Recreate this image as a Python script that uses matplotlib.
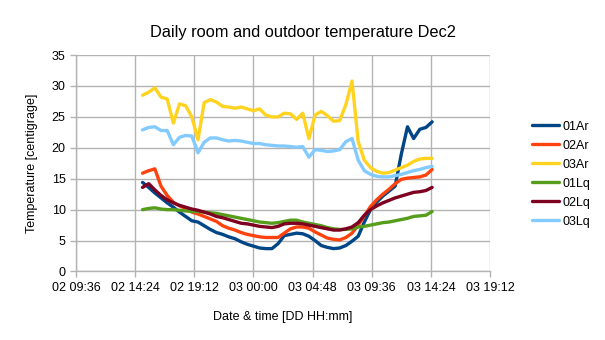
import datetime as dt

import pandas as pd
import matplotlib
matplotlib.use("Agg")
import matplotlib.pyplot as plt
import matplotlib.dates as mdates


# readings every 30 min, 02 15:00 -> 03 14:30
times = pd.date_range("2020-12-02 15:00", periods=48, freq="30min")

ar01 = [14.4, 13.6, 12.7, 11.9, 11.1, 10.4, 9.6, 8.9, 8.2, 8.0, 7.4, 6.8,
        6.3, 6.0, 5.6, 5.3, 4.8, 4.4, 4.1, 3.8, 3.7, 3.7, 4.5, 5.8,
        6.0, 6.2, 6.1, 5.7, 5.0, 4.2, 3.9, 3.7, 3.8, 4.2, 4.9, 5.7,
        8.0, 10.0, 11.2, 12.2, 13.0, 13.8, 19.0, 23.4, 21.5, 23.0, 23.3, 24.2]
ar02 = [15.9, 16.3, 16.6, 13.8, 12.3, 11.2, 10.6, 10.2, 9.6, 9.3, 8.9, 8.5,
        8.1, 7.4, 7.0, 6.7, 6.3, 6.0, 5.8, 5.6, 5.5, 5.5, 5.5, 6.2,
        6.9, 7.2, 7.2, 7.0, 6.4, 5.9, 5.4, 5.2, 5.1, 5.5, 6.2, 7.5,
        9.0, 10.5, 11.6, 12.5, 13.3, 14.2, 14.9, 15.1, 15.2, 15.3, 15.6, 16.5]
ar03 = [28.5, 29.0, 29.7, 28.2, 27.9, 24.0, 27.1, 26.8, 25.0, 21.3, 27.3, 27.8,
        27.4, 26.7, 26.6, 26.4, 26.6, 26.3, 26.0, 26.3, 25.3, 25.0, 25.0, 25.6,
        25.5, 24.6, 25.6, 21.5, 25.3, 25.9, 25.2, 24.3, 24.4, 27.0, 30.8, 21.0,
        18.0, 16.8, 16.2, 15.9, 16.0, 16.4, 16.8, 17.2, 17.8, 18.2, 18.3, 18.3]
lq01 = [10.0, 10.2, 10.3, 10.1, 10.0, 10.0, 9.9, 9.8, 9.7, 9.7, 9.6, 9.5,
        9.4, 9.2, 9.0, 8.8, 8.6, 8.4, 8.2, 8.0, 7.9, 7.8, 7.9, 8.1,
        8.3, 8.3, 8.0, 7.8, 7.6, 7.4, 7.1, 6.9, 6.8, 6.8, 6.9, 7.2,
        7.3, 7.5, 7.7, 7.9, 8.0, 8.2, 8.4, 8.6, 8.9, 9.0, 9.1, 9.7]
lq02 = [13.6, 14.2, 13.2, 12.3, 11.6, 11.1, 10.7, 10.4, 10.1, 9.9, 9.6, 9.3,
        8.9, 8.7, 8.4, 8.1, 7.8, 7.7, 7.5, 7.3, 7.2, 7.1, 7.3, 7.7,
        7.8, 7.8, 7.7, 7.5, 7.3, 7.1, 6.9, 6.7, 6.7, 6.9, 7.2, 7.9,
        9.1, 10.0, 10.6, 11.1, 11.5, 11.9, 12.2, 12.5, 12.8, 12.9, 13.1, 13.6]
lq03 = [22.9, 23.3, 23.4, 22.8, 22.8, 20.5, 21.7, 22.0, 21.9, 19.2, 20.9, 21.6,
        21.6, 21.3, 21.1, 21.2, 21.1, 20.9, 20.7, 20.7, 20.5, 20.4, 20.3, 20.3,
        20.2, 20.1, 20.2, 18.5, 19.7, 19.6, 19.4, 19.5, 19.7, 21.0, 21.5, 18.0,
        16.3, 15.7, 15.4, 15.3, 15.3, 15.5, 15.7, 16.0, 16.3, 16.5, 16.8, 17.0]

series_names = ["01Ar", "02Ar", "03Ar", "01Lq", "02Lq", "03Lq"]
series_values = [ar01, ar02, ar03, lq01, lq02, lq03]
colors = ["#004586", "#ff420e", "#ffd320", "#579d1c", "#7e0021", "#83caff"]

plt.rcParams["font.family"] = ["Liberation Sans", "DejaVu Sans"]

fig = plt.figure(figsize=(6.05, 3.40), dpi=100)
ax = fig.add_axes([0.1256, 0.2015, 0.6844, 0.6365])

for name, vals, col in zip(series_names, series_values, colors):
    ax.plot(times, vals, color=col, linewidth=2.4, label=name,
            solid_joinstyle="round", solid_capstyle="round")

start = dt.datetime(2020, 12, 2, 9, 36)
step = dt.timedelta(hours=4, minutes=48)
xticks = [start + i * step for i in range(8)]
ax.set_xlim(xticks[0], xticks[-1])
ax.set_xticks(xticks)
ax.xaxis.set_major_formatter(mdates.DateFormatter("%d %H:%M"))

ax.set_ylim(0, 35)
ax.set_yticks(range(0, 36, 5))

grid_col = "#b3b3b3"
ax.grid(True, color=grid_col, linewidth=1.0)
ax.set_axisbelow(True)
for side in ["top", "right"]:
    ax.spines[side].set_visible(False)
for side in ["left", "bottom"]:
    ax.spines[side].set_color(grid_col)
    ax.spines[side].set_linewidth(1.0)
ax.tick_params(colors=grid_col, labelcolor="black", length=4, width=1.0,
               labelsize=9)

fig.text(0.5, 1 - 37.5 / 340, "Daily room and outdoor temperature Dec2",
         fontsize=11.8, ha="center", va="baseline")
ax.set_xlabel("Date & time [DD HH:mm]", fontsize=9, labelpad=12)
ax.set_ylabel("Temperature [centigrage]", fontsize=9, labelpad=10)

fig.legend(loc="center left", bbox_to_anchor=(0.860, 0.488), frameon=False,
           fontsize=9, handlelength=2.2, handletextpad=0.3, labelspacing=0.56)

fig.savefig("out.png", dpi=100)
